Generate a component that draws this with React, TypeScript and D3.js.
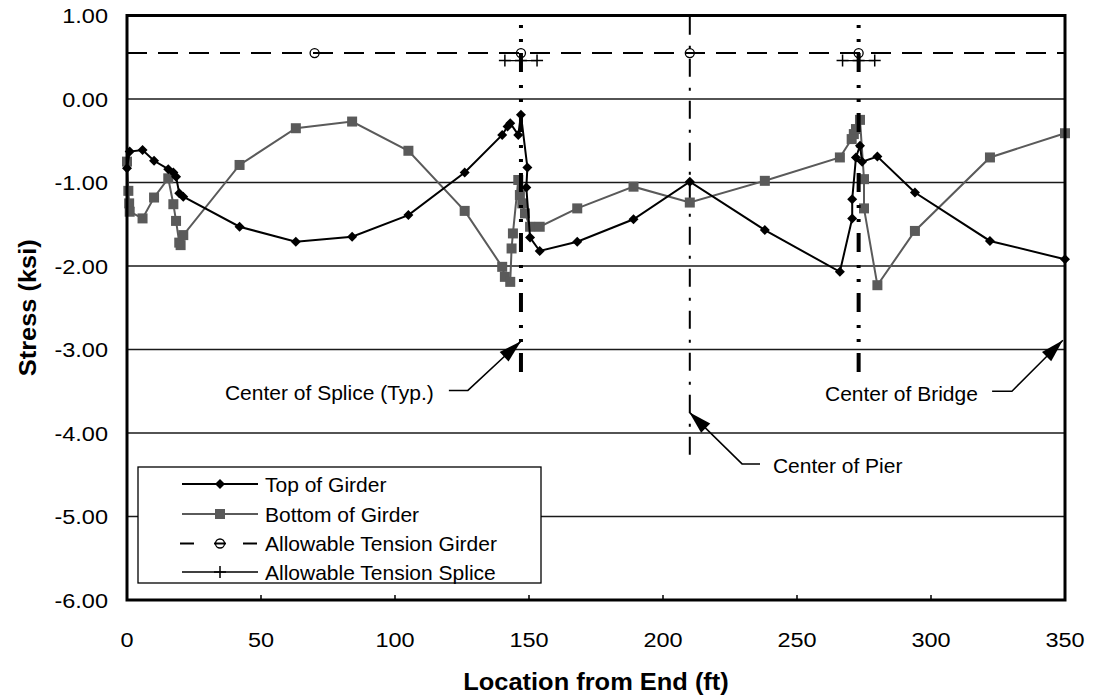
import React from "react";
import * as d3 from "d3";

const W = 1096;
const H = 696;

// Top of Girder (ft, ksi)
const topX = [0, 1, 5.8, 10.1, 15.4, 17.3, 18.3, 19.5, 21, 42, 63, 84, 105, 126, 140, 142, 143, 146, 147, 149.4, 149, 150.4, 154, 168, 189, 210, 238, 266, 270.6, 270.6, 272, 273.5, 274.3, 280, 294, 322, 350];
const topY = [-0.83, -0.63, -0.61, -0.74, -0.84, -0.88, -0.93, -1.13, -1.17, -1.53, -1.71, -1.65, -1.39, -0.88, -0.43, -0.33, -0.29, -0.43, -0.19, -0.82, -1.06, -1.66, -1.82, -1.71, -1.44, -0.99, -1.57, -2.07, -1.43, -1.2, -0.7, -0.56, -0.75, -0.69, -1.12, -1.7, -1.92];

// Bottom of Girder (ft, ksi)
const botX = [0, 0.5, 0.8, 1, 5.8, 10.1, 15.4, 17.3, 18.3, 19.5, 20, 21, 42, 63, 84, 105, 126, 140, 141, 143, 143.5, 144, 146, 146.6, 147.5, 148.5, 150.4, 154, 168, 189, 210, 238, 266, 270.4, 271.2, 272, 273.5, 275, 275, 280, 294, 322, 350];
const botY = [-0.75, -1.1, -1.25, -1.35, -1.43, -1.18, -0.95, -1.26, -1.46, -1.72, -1.75, -1.63, -0.79, -0.35, -0.27, -0.62, -1.34, -2.01, -2.13, -2.19, -1.79, -1.61, -0.97, -1.15, -1.25, -1.37, -1.53, -1.53, -1.31, -1.05, -1.24, -0.98, -0.7, -0.48, -0.42, -0.36, -0.25, -0.96, -1.31, -2.23, -1.58, -0.7, -0.41];

// Allowable tension girder
const girderAllowX = [70, 147, 210, 273];
const girderAllowValue = 0.55;

// Allowable tension splice (two short runs)
const spliceAllowX1 = [141, 147, 153];
const spliceAllowX2 = [267, 273, 279];
const spliceAllowValue = 0.46;

const xTicks = [0, 50, 100, 150, 200, 250, 300, 350];
const yTicks = [1, 0, -1, -2, -3, -4, -5, -6];
const gridValues = [0, -1, -2, -3, -4, -5];
const legendLabels = ["Top of Girder", "Bottom of Girder", "Allowable Tension Girder", "Allowable Tension Splice"];

const spliceLocations = [147, 273];
const spliceLineBottom = -3.27;
const pierLocation = 210;
const pierLineBottom = -4.26;

const FONT = "'Liberation Sans', Arial, Helvetica, sans-serif";
const GRAY = "#5a5a5a";

const x = d3.scaleLinear().domain([0, 350]).range([127, 1065]);
const y = d3.scaleLinear().domain([-6, 1]).range([600, 15.5]);

function diamond(cx: number, cy: number, r: number) {
  return `M${cx},${cy - r}L${cx + r},${cy}L${cx},${cy + r}L${cx - r},${cy}Z`;
}

function arrowHead(ex: number, ey: number, tx: number, ty: number) {
  const dx = tx - ex;
  const dy = ty - ey;
  const len = Math.sqrt(dx * dx + dy * dy);
  const ux = dx / len;
  const uy = dy / len;
  const bx = tx - ux * 23;
  const by = ty - uy * 23;
  const nx = -uy * 6.5;
  const ny = ux * 6.5;
  return `M${tx},${ty}L${bx + nx},${by + ny}L${bx - nx},${by - ny}Z`;
}

type Ann = { text: string; tip: [number, number]; elbow: [number, number]; start: [number, number]; textPos: [number, number]; anchor: string };
const annotations: Ann[] = [
  { text: "Center of Splice (Typ.)", tip: [147, -2.9], elbow: [127.2, -3.49], start: [120.1, -3.49], textPos: [114.5, -3.61], anchor: "end" },
  { text: "Center of Bridge", tip: [349.2, -2.89], elbow: [330.2, -3.5], start: [322.8, -3.5], textPos: [317.5, -3.62], anchor: "end" },
  { text: "Center of Pier", tip: [209.8, -3.75], elbow: [229.5, -4.37], start: [236.2, -4.37], textPos: [241, -4.48], anchor: "start" },
];

export default function App() {
  const line = d3
    .line<[number, number]>()
    .x((d) => x(d[0]))
    .y((d) => y(d[1]));

  const topPts: [number, number][] = topX.map((v, i) => [v, topY[i]]);
  const botPts: [number, number][] = botX.map((v, i) => [v, botY[i]]);

  const legendRows = [484, 514, 543.5, 572];

  return (
    <svg width={W} height={H} style={{ position: "absolute", left: 0, top: 0, display: "block" }} fontFamily={FONT}>
      <rect x={0} y={0} width={W} height={H} fill="#fff" />

      {/* grid lines */}
      {gridValues.map((g) => (
        <line key={g} x1={x(0)} x2={x(350)} y1={y(g)} y2={y(g)} stroke="#1a1a1a" strokeWidth={1.5} />
      ))}

      {/* x ticks (inside) */}
      {xTicks.map((t) => (
        <line key={t} x1={x(t)} x2={x(t)} y1={y(-6)} y2={y(-6) - 5} stroke="#000" strokeWidth={1.5} />
      ))}

      {/* allowable tension girder */}
      <line x1={x(0)} x2={x(350)} y1={y(girderAllowValue)} y2={y(girderAllowValue)} stroke="#000" strokeWidth={2} strokeDasharray="20,11" />
      {girderAllowX.map((g) => (
        <circle key={g} cx={x(g)} cy={y(girderAllowValue)} r={4.5} fill="none" stroke="#000" strokeWidth={1.3} />
      ))}

      {/* allowable tension splice */}
      {[spliceAllowX1, spliceAllowX2].map((arr, k) => (
        <g key={k}>
          <path d={line(arr.map((v) => [v, spliceAllowValue] as [number, number])) || ""} fill="none" stroke="#000" strokeWidth={1.3} />
          {arr.map((v) => (
            <path key={v} d={`M${x(v) - 6},${y(spliceAllowValue)}H${x(v) + 6}M${x(v)},${y(spliceAllowValue) - 6}V${y(spliceAllowValue) + 6}`} stroke="#000" strokeWidth={1.5} />
          ))}
        </g>
      ))}

      {/* center of pier line */}
      <line x1={x(pierLocation)} x2={x(pierLocation)} y1={y(pierLineBottom)} y2={y(1)} stroke="#000" strokeWidth={2} strokeDasharray="18,10,3,11" />

      {/* bottom of girder */}
      <path d={line(botPts) || ""} fill="none" stroke={GRAY} strokeWidth={2} />
      {botPts.map((p, i) => (
        <rect key={i} x={x(p[0]) - 5} y={y(p[1]) - 5} width={10} height={10} fill={GRAY} />
      ))}

      {/* top of girder */}
      <path d={line(topPts) || ""} fill="none" stroke="#000" strokeWidth={2} />
      {topPts.map((p, i) => (
        <path key={i} d={diamond(x(p[0]), y(p[1]), 5)} fill="#000" />
      ))}

      {/* splice center lines */}
      {spliceLocations.map((s) => (
        <line key={s} x1={x(s)} x2={x(s)} y1={y(spliceLineBottom)} y2={y(1)} stroke="#000" strokeWidth={4} strokeDasharray="19,11,3,11,3,13" />
      ))}

      {/* annotations */}
      {annotations.map((a) => {
        const tx = x(a.tip[0]);
        const ty = y(a.tip[1]);
        const ex = x(a.elbow[0]);
        const ey = y(a.elbow[1]);
        const sx = x(a.start[0]);
        const sy = y(a.start[1]);
        return (
          <g key={a.text}>
            <path d={`M${sx},${sy}L${ex},${ey}L${tx},${ty}`} fill="none" stroke="#000" strokeWidth={1.5} />
            <path d={arrowHead(ex, ey, tx, ty)} fill="#000" />
            <text x={x(a.textPos[0])} y={y(a.textPos[1])} fontSize={21} textAnchor={a.anchor as any} fill="#000">
              {a.text}
            </text>
          </g>
        );
      })}

      {/* legend */}
      <rect x={138} y={467} width={403} height={116} fill="#fff" stroke="#000" strokeWidth={1.3} />
      {legendLabels.map((lab, i) => {
        const cy = legendRows[i];
        let sample: any = null;
        if (i === 0) {
          sample = (
            <g>
              <line x1={182} x2={258} y1={cy} y2={cy} stroke="#000" strokeWidth={2} />
              <path d={diamond(220, cy, 5)} fill="#000" />
            </g>
          );
        } else if (i === 1) {
          sample = (
            <g>
              <line x1={182} x2={258} y1={cy} y2={cy} stroke={GRAY} strokeWidth={2} />
              <rect x={215} y={cy - 5} width={10} height={10} fill={GRAY} />
            </g>
          );
        } else if (i === 2) {
          sample = (
            <g>
              <line x1={180} x2={194} y1={cy} y2={cy} stroke="#000" strokeWidth={2} />
              <line x1={214} x2={226} y1={cy} y2={cy} stroke="#000" strokeWidth={2} />
              <line x1={243} x2={257} y1={cy} y2={cy} stroke="#000" strokeWidth={2} />
              <circle cx={220} cy={cy} r={4.5} fill="none" stroke="#000" strokeWidth={1.3} />
            </g>
          );
        } else {
          sample = (
            <g>
              <line x1={182} x2={258} y1={cy} y2={cy} stroke="#000" strokeWidth={1.3} />
              <path d={`M214,${cy}H226M220,${cy - 6}V${cy + 6}`} stroke="#000" strokeWidth={1.5} />
            </g>
          );
        }
        return (
          <g key={lab}>
            {sample}
            <text x={265} y={cy + 7.5} fontSize={21} fill="#000">
              {lab}
            </text>
          </g>
        );
      })}

      {/* plot border */}
      <rect x={x(0)} y={y(1)} width={x(350) - x(0)} height={y(-6) - y(1)} fill="none" stroke="#000" strokeWidth={3} />

      {/* y tick labels */}
      {yTicks.map((t) => (
        <text key={t} transform={`translate(108,${y(t) + 7.5}) scale(1.12,1)`} fontSize={21} textAnchor="end" fill="#000">
          {t.toFixed(2)}
        </text>
      ))}

      {/* x tick labels */}
      {xTicks.map((t) => (
        <text key={t} transform={`translate(${x(t)},${647}) scale(1.12,1)`} fontSize={21} textAnchor="middle" fill="#000">
          {t}
        </text>
      ))}

      {/* axis titles */}
      <text transform={`translate(${(x(0) + x(350)) / 2},${690}) scale(1.06,1)`} fontSize={24} fontWeight="bold" textAnchor="middle" fill="#000">
        Location from End (ft)
      </text>
      <text transform={`translate(36,${(y(1) + y(-6)) / 2}) rotate(-90) scale(1.06,1)`} fontSize={24} fontWeight="bold" textAnchor="middle" fill="#000">
        Stress (ksi)
      </text>
    </svg>
  );
}
